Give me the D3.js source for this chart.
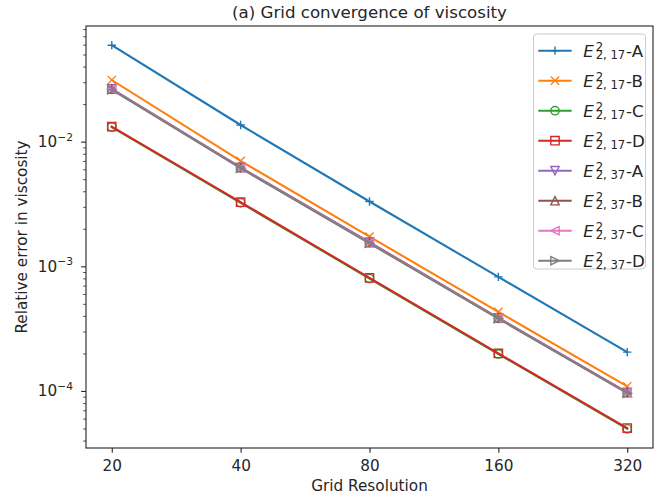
<!DOCTYPE html>
<html><head><meta charset="utf-8">
<script src="https://cdn.jsdelivr.net/npm/d3@7"></script>
<style>
html,body{margin:0;padding:0;background:#fff;}
text{font-family:"DejaVu Sans",sans-serif;fill:#262626;}
</style></head>
<body>
<svg id="chart" width="660" height="500"></svg>
<script>
// ---- data ----
const gridRes = [20, 40, 80, 160, 320];
const xTickLabels = ["20", "40", "80", "160", "320"];
const yTickValues = [1e-4, 1e-3, 1e-2];
const yTickExps = ["\u22124", "\u22123", "\u22122"];
const seriesSub = ["2, 17", "2, 17", "2, 17", "2, 17", "2, 37", "2, 37", "2, 37", "2, 37"];
const seriesSuffix = ["-A", "-B", "-C", "-D", "-A", "-B", "-C", "-D"];
const seriesColors = ["#1f77b4", "#ff7f0e", "#2ca02c", "#d62728", "#9467bd", "#8c564b", "#e377c2", "#7f7f7f"];
const seriesMarkers = ["+", "x", "o", "s", "v", "^", "<", ">"];
const e17A = [0.0594, 0.0136, 0.00331, 8.22e-4, 2.05e-4];
const e17B = [0.0312, 0.0070, 0.00173, 4.31e-4, 1.09e-4];
const e17C = [0.0131, 0.00323, 7.98e-4, 1.98e-4, 4.97e-5];
const e17D = [0.01318, 0.00327, 8.07e-4, 2.00e-4, 5.04e-5];
const e37A = [0.0265, 0.00621, 0.00156, 3.86e-4, 9.75e-5];
const e37B = [0.0264, 0.00618, 0.00155, 3.84e-4, 9.70e-5];
const e37C = [0.0262, 0.00615, 0.00154, 3.82e-4, 9.66e-5];
const e37D = [0.0261, 0.00612, 0.00153, 3.80e-4, 9.60e-5];
const seriesValues = [e17A, e17B, e17C, e17D, e37A, e37B, e37C, e37D];
const titleText = "(a) Grid convergence of viscosity";
const xLabelText = "Grid Resolution";
const yLabelText = "Relative error in viscosity";

// ---- layout ----
const L = 86, R = 653, T = 26, B = 448;
const PT = 100 / 72;
const FS = 11 * PT;
const svg = d3.select("#chart");
const ink = "#262626";

function logMargin(vals, base) {
  const lg = v => Math.log(v) / Math.log(base);
  const lo = lg(d3.min(vals)), hi = lg(d3.max(vals));
  const m = (hi - lo) * 0.05;
  return [Math.pow(base, lo - m), Math.pow(base, hi + m)];
}
const allY = seriesValues.flat();
const x = d3.scaleLog().base(2).domain(logMargin(gridRes, 2)).range([L, R]);
const y = d3.scaleLog().domain(logMargin(allY, 10)).range([B, T]);

// axes
const tickLen = 3.5 * PT, minorLen = 2 * PT;
const xAxis = d3.axisBottom(x).tickValues(gridRes).tickFormat((d, i) => xTickLabels[i])
  .tickSize(tickLen).tickPadding(3.5 * PT);
const gx = svg.append("g").attr("transform", `translate(0,${B})`).call(xAxis);
gx.select(".domain").remove();
gx.selectAll("line").attr("stroke", ink).attr("stroke-width", 0.8 * PT);
gx.selectAll("text").attr("font-size", FS).attr("fill", ink)
  .attr("font-family", "DejaVu Sans").attr("dy", "0.86em");

const yd = y.domain();
const minor = [];
for (let e = Math.floor(Math.log10(yd[0])); e <= Math.ceil(Math.log10(yd[1])); e++) {
  for (let k = 2; k <= 9; k++) {
    const v = k * Math.pow(10, e);
    if (v >= yd[0] && v <= yd[1]) minor.push(v);
  }
}
const gyMinor = svg.append("g").attr("transform", `translate(${L},0)`)
  .call(d3.axisLeft(y).tickValues(minor).tickFormat("").tickSize(minorLen));
gyMinor.select(".domain").remove();
gyMinor.selectAll("line").attr("stroke", ink).attr("stroke-width", 0.6 * PT);

const gy = svg.append("g").attr("transform", `translate(${L},0)`)
  .call(d3.axisLeft(y).tickValues(yTickValues).tickFormat("").tickSize(tickLen));
gy.select(".domain").remove();
gy.selectAll("line").attr("stroke", ink).attr("stroke-width", 0.8 * PT);

yTickValues.forEach((v, i) => {
  const t = svg.append("text").attr("x", 73).attr("y", y(v) + 5.2)
    .attr("text-anchor", "end").attr("font-size", FS).attr("fill", ink);
  t.append("tspan").text("10");
  t.append("tspan").attr("dy", -6.2).attr("font-size", FS * 0.7).text(yTickExps[i]);
});

// series
const lineGen = d3.line().x((d, i) => x(gridRes[i])).y(d => y(d));
const ms = 6 * PT, h = ms / 2;
function markerPath(type, cx, cy) {
  switch (type) {
    case "+": return `M${cx - h},${cy}H${cx + h}M${cx},${cy - h}V${cy + h}`;
    case "x": return `M${cx - h},${cy - h}L${cx + h},${cy + h}M${cx - h},${cy + h}L${cx + h},${cy - h}`;
    case "s": return `M${cx - h},${cy - h}H${cx + h}V${cy + h}H${cx - h}Z`;
    case "v": return `M${cx - h},${cy - h}H${cx + h}L${cx},${cy + h}Z`;
    case "^": return `M${cx},${cy - h}L${cx + h},${cy + h}H${cx - h}Z`;
    case "<": return `M${cx - h},${cy}L${cx + h},${cy - h}V${cy + h}Z`;
    case ">": return `M${cx + h},${cy}L${cx - h},${cy - h}V${cy + h}Z`;
  }
  return "";
}
function drawMarker(g, type, cx, cy, color) {
  if (type === "o") {
    g.append("circle").attr("cx", cx).attr("cy", cy).attr("r", h)
      .attr("fill", "none").attr("stroke", color).attr("stroke-width", 1 * PT);
  } else {
    g.append("path").attr("d", markerPath(type, cx, cy))
      .attr("fill", "none").attr("stroke", color).attr("stroke-width", 1 * PT)
      .attr("stroke-linejoin", "miter");
  }
}
const plot = svg.append("g");
seriesValues.forEach((vals, si) => {
  const g = plot.append("g");
  g.append("path").datum(vals).attr("d", lineGen).attr("fill", "none")
    .attr("stroke", seriesColors[si]).attr("stroke-width", 1.5 * PT)
    .attr("stroke-linecap", "square");
  vals.forEach((v, i) => drawMarker(g, seriesMarkers[si], x(gridRes[i]), y(v), seriesColors[si]));
});

// frame
svg.append("rect").attr("x", L).attr("y", T).attr("width", R - L).attr("height", B - T)
  .attr("fill", "none").attr("stroke", ink).attr("stroke-width", 0.8 * PT);

// title & labels
svg.append("text").attr("x", (L + R) / 2).attr("y", 18).attr("text-anchor", "middle")
  .attr("font-size", 12 * PT).text(titleText);
svg.append("text").attr("x", (L + R) / 2).attr("y", 491).attr("text-anchor", "middle")
  .attr("font-size", FS).text(xLabelText);
svg.append("text").attr("transform", `translate(27,${(T + B) / 2}) rotate(-90)`)
  .attr("text-anchor", "middle").attr("font-size", FS).text(yLabelText);

// legend
const lg = svg.append("g");
lg.append("rect").attr("x", 533.5).attr("y", 34).attr("width", 112).attr("height", 235)
  .attr("rx", 3).attr("fill", "#fff").attr("fill-opacity", 0.8)
  .attr("stroke", "#cccccc").attr("stroke-width", 1);
seriesValues.forEach((vals, si) => {
  const cy = 50.7 + 30 * si;
  lg.append("line").attr("x1", 538.3).attr("x2", 571.7).attr("y1", cy).attr("y2", cy)
    .attr("stroke", seriesColors[si]).attr("stroke-width", 1.5 * PT);
  drawMarker(lg, seriesMarkers[si], 555, cy, seriesColors[si]);
  const x0 = 583.3, base = cy + 6;
  const e = lg.append("text").attr("x", x0).attr("y", base).attr("font-size", 12 * PT)
    .attr("font-style", "italic").text("E");
  const ew = e.node().getComputedTextLength();
  const xs = x0 + Math.max(ew, 10) + 1.8;
  lg.append("text").attr("x", xs).attr("y", base - 6).attr("font-size", 12 * PT * 0.7).text("2");
  const sub = lg.append("text").attr("x", xs).attr("y", base + 2.6)
    .attr("font-size", 12 * PT * 0.7).text(seriesSub[si]);
  const sw = sub.node().getComputedTextLength();
  lg.append("text").attr("x", xs + sw + 0.8).attr("y", base).attr("font-size", 12 * PT)
    .text(seriesSuffix[si]);
});
</script>
</body></html>
